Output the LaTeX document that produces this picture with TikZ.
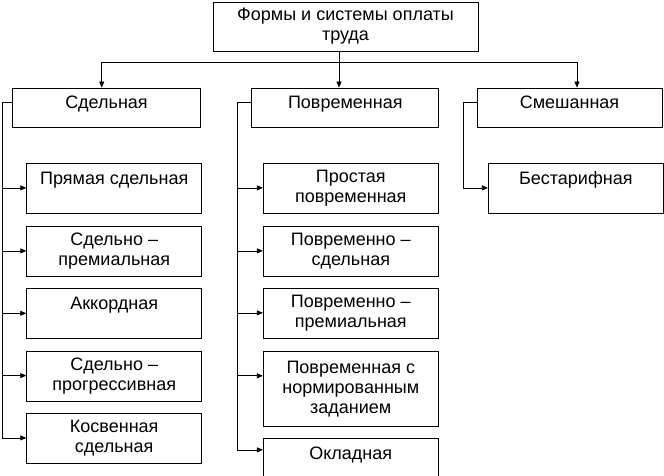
\documentclass[tikz,border=0pt]{standalone}
\usepackage{fontspec}
\setmainfont{Liberation Sans}
\usetikzlibrary{arrows.meta}
\begin{document}
\begin{tikzpicture}[x=1pt,y=-1pt]
  \tikzset{
    formbox/.style={draw,line width=0.8pt,inner sep=0pt,align=center,
      minimum width=175pt,minimum height=50pt,
      font=\fontsize{18}{20}\selectfont},
    headbox/.style={formbox,minimum height=39pt,text depth=11pt},
    link/.style={line width=0.8pt},
    arr/.style={link,-{Triangle[length=6pt,width=5pt]}},
  }
  \useasboundingbox (0,0) rectangle (664,476);
  \clip (0,0) rectangle (664,476);
  \node[formbox,minimum width=265pt,minimum height=49pt] (forms) at (345.5,26.5)
    {Формы и системы оплаты\\труда};
  \node[headbox,minimum width=188pt] (sdel) at (106.5,107.5) {Сдельная};
  \node[headbox,minimum width=187pt] (povr) at (345.3,107.5) {Повременная};
  \node[headbox,minimum width=185pt] (smes) at (569.5,107.5) {Смешанная};
  \node[formbox] (s1) at (114.2,188.3) {Прямая сдельная\\~};
  \node[formbox] (s2) at (114.2,251.3) {Сдельно --\\премиальная};
  \node[formbox] (s3) at (114.2,313.7) {Аккордная\\~};
  \node[formbox] (s4) at (114.2,376) {Сдельно --\\прогрессивная};
  \node[formbox] (s5) at (114.2,438.3) {Косвенная\\сдельная};
  \node[formbox] (p1) at (350.8,188.3) {Простая\\повременная};
  \node[formbox] (p2) at (350.8,251.3) {Повременно --\\сдельная};
  \node[formbox] (p3) at (350.8,313.3) {Повременно --\\премиальная};
  \node[formbox,minimum height=75pt] (p4) at (350.8,388.7)
    {Повременная с\\нормированным\\заданием};
  \node[formbox] (p5) at (350.8,463.3) {Окладная\\~};
  \node[formbox] (m1) at (575.8,188.3) {Бестарифная\\~};
  \coordinate (hubL) at (101.7,62);
  \coordinate (hubR) at (577,62);
  \coordinate (hubC) at (339,62);
  \draw[link] (hubL) -- (hubR);
  \draw[arr] (hubC |- forms.south) -- (hubC |- povr.north);
  \draw[arr] (hubL) -- (hubL |- sdel.north);
  \draw[arr] (hubR) -- (hubR |- smes.north);
  \draw[arr] ([yshift=5.5pt]sdel.west) -- ++(-9.7,0) |- ([yshift=-25pt]s5.north west);
  \foreach \n in {s1,s2,s3,s4}
    \draw[arr] ([yshift=-25pt]\n.north west) ++(-23.7,0) -- ++(23.7,0);
  \draw[arr] ([yshift=5.5pt]povr.west) -- ++(-13.7,0) |- ([yshift=-12pt]p5.north west);
  \foreach \n in {p1,p2,p3,p4}
    \draw[arr] ([yshift=-25pt]\n.north west) ++(-25,0) -- ++(25,0);
  \draw[arr] ([yshift=5.5pt]smes.west) -- ++(-13.7,0) |- ([yshift=-25pt]m1.north west);
\end{tikzpicture}
\end{document}
